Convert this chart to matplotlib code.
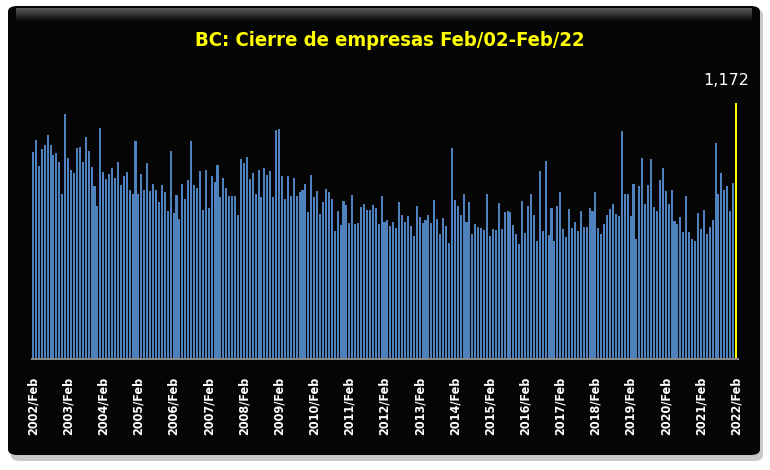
"""
BC: cierre de empresas, serie mensual Feb/2002 - Feb/2022.
Barras mensuales; el último dato (Feb/22) resaltado en amarillo.
"""
import numpy as np
import matplotlib
matplotlib.use("Agg")
import matplotlib.pyplot as plt
from matplotlib import font_manager
from matplotlib.patches import FancyBboxPatch

# ---------- datos ----------
# cada renglón: Feb de un año -> Ene del siguiente
cierres = [
    948, 1003, 884, 961, 980, 1025, 980, 934, 943, 902, 755, 1122,   # 2002/Feb
    920, 865, 852, 966, 971, 902, 1016, 952, 879, 792, 700, 1058,    # 2003/Feb
    856, 824, 847, 874, 829, 902, 797, 838, 856, 774, 755, 998,      # 2004/Feb
    755, 847, 774, 897, 769, 801, 774, 719, 797, 765, 678, 952,      # 2005/Feb
    668, 751, 641, 801, 732, 819, 998, 797, 783, 861, 682, 865,      # 2006/Feb
    691, 838, 810, 888, 742, 829, 783, 746, 746, 746, 659, 916,      # 2007/Feb
    897, 925, 824, 852, 755, 865, 742, 874, 842, 861, 742, 1048,     # 2008/Feb
    1053, 838, 732, 838, 746, 829, 746, 765, 774, 801, 673, 842,     # 2009/Feb
    742, 769, 664, 719, 778, 765, 732, 586, 678, 613, 723, 705,      # 2010/Feb
    623, 751, 618, 623, 696, 710, 682, 682, 705, 691, 618, 746,      # 2011/Feb
    627, 636, 609, 627, 600, 719, 659, 627, 655, 609, 563, 700,      # 2012/Feb
    650, 623, 636, 659, 623, 728, 641, 572, 646, 609, 531, 966,      # 2013/Feb
    728, 700, 659, 755, 627, 719, 572, 618, 604, 600, 591, 755,      # 2014/Feb
    563, 595, 591, 714, 595, 673, 678, 673, 613, 572, 526, 723,      # 2015/Feb
    577, 700, 755, 659, 540, 861, 586, 906, 568, 691, 540, 700,      # 2016/Feb
    765, 595, 558, 687, 600, 627, 586, 678, 604, 604, 691, 678,      # 2017/Feb
    765, 600, 572, 618, 659, 687, 710, 664, 655, 1044, 755, 755,     # 2018/Feb
    655, 801, 549, 792, 920, 710, 797, 916, 696, 678, 819, 874,      # 2019/Feb
    769, 710, 774, 632, 618, 650, 581, 746, 581, 549, 540, 668,      # 2020/Feb
    595, 682, 572, 604, 636, 989, 755, 852, 774, 792, 678, 806,      # 2021/Feb
    1172,                                                            # 2022/Feb
]
years = list(range(2002, 2023))
tick_labels = [f"{y}/Feb" for y in years]
title = "BC: Cierre de empresas Feb/02-Feb/22"

BLUE = "#4F81BD"
YELLOW = "#FFFF00"

# versión condensada de DejaVu si está instalada (más parecida a Calibri)
has_cond = any(f.name == "DejaVu Sans" and f.stretch == "condensed"
               for f in font_manager.fontManager.ttflist)
STRETCH = "condensed" if has_cond else "normal"
TITLE_FS = 14.5 if has_cond else 12.5
TICK_FS = 9 if has_cond else 8

# ---------- figura ----------
W, H = 770, 470
fig = plt.figure(figsize=(W / 100, H / 100), dpi=100, facecolor="white")

# sombra + panel negro redondeado
shadow = FancyBboxPatch((11 / W, 9 / H), 752 / W, 452 / H,
                        boxstyle="round,pad=0,rounding_size=0.012",
                        transform=fig.transFigure, facecolor="#c8c8c8",
                        edgecolor="none", zorder=0)
panel = FancyBboxPatch((8 / W, 15 / H), 752 / W, 449 / H,
                       boxstyle="round,pad=0,rounding_size=0.012",
                       transform=fig.transFigure, facecolor="#050505",
                       edgecolor="none", zorder=1)
fig.patches.extend([shadow, panel])

# bisel gris en el borde superior del panel
bevel = fig.add_axes([16 / W, 1 - 22 / H, 736 / W, 14 / H])
bevel.set_zorder(3)
grad = np.linspace(0.38, 0.02, 32).reshape(-1, 1)
bevel.imshow(np.repeat(grad, 2, axis=1), cmap="gray", vmin=0, vmax=1,
             aspect="auto", extent=(0, 1, 0, 1), origin="upper")
bevel.set_axis_off()

fig.text(390 / W, 1 - 40 / H, title, color=YELLOW, fontsize=TITLE_FS,
         fontweight="bold", fontstretch=STRETCH, ha="center", va="center",
         zorder=4)

ax = fig.add_axes([31.5 / W, 111 / H, 706 / W, 256 / H])
ax.set_facecolor("none")
ax.set_zorder(2)

n = len(cierres)
x = list(range(n))
ax.bar(x[:-1], cierres[:-1], width=0.7, color=BLUE, zorder=2)
ax.bar(x[-1], cierres[-1], width=0.7, color=YELLOW, zorder=2)
ax.annotate(f"{cierres[-1]:,}", xy=(x[-1], cierres[-1]), xytext=(-7, 11),
            textcoords="offset points", ha="center", va="bottom",
            color="white", fontsize=11.5, annotation_clip=False)

ax.set_xlim(-0.5, n - 0.5)
ax.set_ylim(0, max(cierres))
ax.set_xticks(range(0, n, 12))
ax.set_xticklabels(tick_labels, rotation=90, color="white", fontsize=TICK_FS,
                   fontweight="bold", fontstretch=STRETCH)
ax.tick_params(axis="x", length=0, pad=13)
ax.set_yticks([])
for s in ("left", "right", "top"):
    ax.spines[s].set_visible(False)
ax.spines["bottom"].set_color("#868686")
ax.spines["bottom"].set_linewidth(1.5)

plt.savefig("out.png", dpi=100, facecolor="white")
